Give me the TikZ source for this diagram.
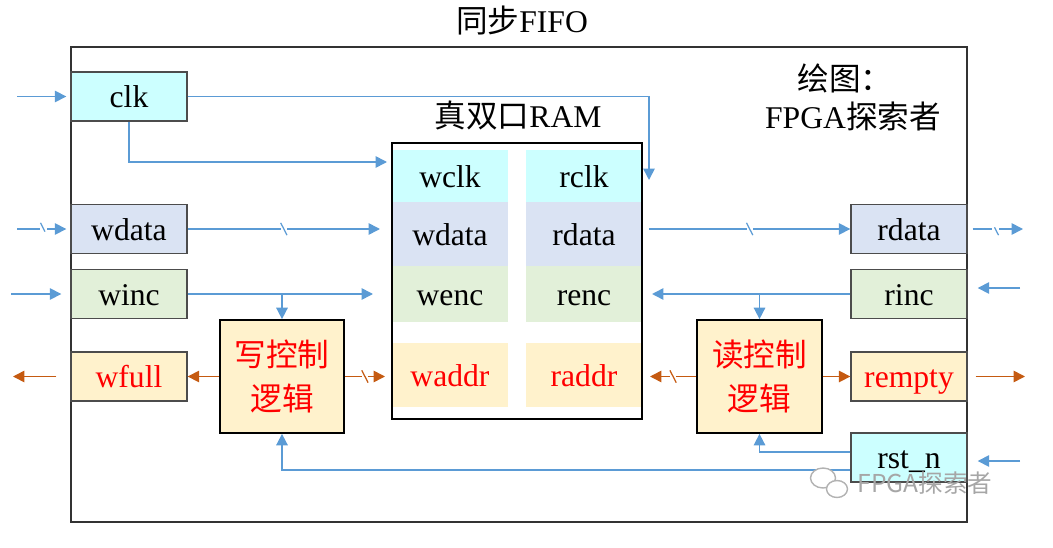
\documentclass[tikz,border=0pt]{standalone}
\usepackage{fontspec}
\setmainfont{Liberation Serif}
\newfontfamily\cjk{Noto Sans CJK SC}
\usepackage{tikz}
\usetikzlibrary{arrows.meta,decorations.markings}
\definecolor{clkc}{HTML}{CCFFFF}
\definecolor{datac}{HTML}{DAE3F3}
\definecolor{incc}{HTML}{E2F0D9}
\definecolor{flagc}{HTML}{FFF2CC}
\definecolor{wire}{HTML}{5B9BD5}
\definecolor{flagw}{HTML}{C55A11}

\begin{document}
\begin{tikzpicture}[x=0.02cm,y=-0.02cm,
          every node/.style={font=\fontsize{18}{25}\selectfont},
          frame/.style={draw=black!80,line width=1pt,minimum width=17.92cm,minimum height=9.5cm},
          port/.style={draw=black!70,line width=0.8pt,minimum width=2.32cm,minimum height=0.98cm,inner sep=0pt,
                       text height=15pt,text depth=2pt},
          cell/.style={minimum width=2.32cm,inner sep=0pt,text height=15pt,text depth=2pt},
          ctrl/.style={draw=black,line width=1pt,fill=flagc,text=red,align=center,inner sep=0pt,
                       minimum height=2.26cm,font=\cjk\fontsize{18}{25}\selectfont},
          sig/.style={draw=wire,line width=0.9pt,-{Triangle[length=6.5pt,width=6.5pt]}},
          flg/.style={draw=flagw,line width=0.9pt,-{Triangle[length=6.5pt,width=6.5pt]}},
          bus/.style={decoration={markings,mark=at position 0.5 with {
                        \fill[white] (-1.8pt,-3.5pt) rectangle (1.8pt,3.5pt);
                        \draw[-,line width=0.7pt] (-1.8pt,3.5pt) -- (1.8pt,-3.5pt);}},
                      postaction={decorate}},
        ]
        \useasboundingbox (0,0) rectangle (1053,547);
        \node[frame] (fifo) at (519,284.5) {};
        \node (title) at (522,21) {{\cjk 同步}FIFO};
        \node (author) at (845,78) {\cjk 绘图：};
        \node (authorname) at (853,116) {FPGA{\cjk 探索者}};

        \node[port,fill=clkc] (clk) at (129,96.5) {clk};
        \node[port,fill=datac] (wdat) at (129,229) {wdata};
        \node[port,fill=incc] (winc) at (129,294) {winc};
        \node[port,fill=flagc,text=red] (wfull) at (129,376.5) {wfull};
        \node[port,fill=datac] (rdat) at (909,229) {rdata};
        \node[port,fill=incc] (rinc) at (909,294) {rinc};
        \node[port,fill=flagc,text=red] (rempty) at (909,376.5) {rempty};
        \node[port,fill=clkc] (rstn) at (909,457.5) {rst\_n};

        \node[ctrl,minimum width=2.48cm] (wctrl) at (282,376.5) {写控制\\逻辑};
        \node[ctrl,minimum width=2.5cm] (rctrl) at (759.5,376.5) {读控制\\逻辑};

        \node[cell,fill=clkc,minimum height=1.04cm] (wclk) at (450,176) {wclk};
        \node[cell,fill=clkc,minimum height=1.04cm] (rclk) at (584,176) {rclk};
        \node[cell,fill=datac,minimum height=1.28cm] (wdatp) at (450,234) {wdata};
        \node[cell,fill=datac,minimum height=1.28cm] (rdatp) at (584,234) {rdata};
        \node[cell,fill=incc,minimum height=1.12cm] (wenc) at (450,294) {wenc};
        \node[cell,fill=incc,minimum height=1.12cm] (renc) at (584,294) {renc};
        \node[cell,fill=flagc,minimum height=1.28cm,text=red] (waddr) at (450,375) {waddr};
        \node[cell,fill=flagc,minimum height=1.28cm,text=red] (raddr) at (584,375) {raddr};
        \node[draw,line width=1pt,minimum width=5cm,minimum height=5.52cm] (ram) at (517,281) {};
        \node (ramtitle) at (518,115) {{\cjk 真双口}RAM};

        \coordinate (clkin) at (17,96.5);
        \coordinate (wdatin) at (17,229);
        \coordinate (wincin) at (11,294);
        \coordinate (wfullout) at (13,376.5);
        \coordinate (rdatout) at (1023,229);
        \coordinate (rincin) at (1020,288);
        \coordinate (remptyout) at (1025,376.5);
        \coordinate (rstnin) at (1020,461);
        \coordinate (rclkin) at (649,180);
        \coordinate (wclkin) at (387,162);
        \coordinate (wdatpin) at (380,229);
        \coordinate (wencin) at (373,294);
        \coordinate (rdatpout) at (649,229);
        \coordinate (rencin) at (652,294);
        \coordinate (waddrin) at (385,376.5);
        \coordinate (raddrin) at (650,376.5);

        \draw[sig,shorten >=0.08cm] (clkin) -- (clk);
        \draw[sig,bus,shorten >=0.08cm] (wdatin) -- (wdat);
        \draw[sig,shorten >=0.18cm] (wincin) -- (winc);
        \draw[flg,shorten <=0.28cm] (wfull) -- (wfullout);
        \draw[sig] (clk.east) -| (rclkin);
        \draw[sig] (clk.south) |- (wclkin);
        \draw[sig,bus] (wdat) -- (wdatpin);
        \draw[sig] (winc) -- (wencin);
        \draw[sig] (wctrl.north |- winc.east) -- (wctrl);
        \draw[flg,bus] (wctrl) -- (waddrin);
        \draw[flg] (wctrl) -- (wfull);
        \draw[sig,bus] (rdatpout) -- (rdat);
        \draw[sig,bus,shorten <=0.1cm] (rdat) -- (rdatout);
        \draw[sig,shorten >=0.2cm] (rincin) -- (rinc.east |- rincin);
        \draw[sig] (rinc) -- (rencin);
        \draw[sig] (rctrl.north |- rinc.west) -- (rctrl);
        \draw[flg,bus] (rctrl) -- (raddrin);
        \draw[flg] (rctrl) -- (rempty);
        \draw[flg,shorten <=0.16cm] (rempty) -- (remptyout);
        \draw[sig,shorten >=0.2cm] (rstnin) -- (rstn.east |- rstnin);
        \draw[sig] ([yshift=0.11cm]rstn.west) -| (rctrl);
        \draw[sig] ([yshift=-0.25cm]rstn.west) -| (wctrl);

        \draw[black!30,line width=0.8pt,fill=white] (823,478) ellipse (0.25cm and 0.2cm);
        \draw[black!30,line width=0.8pt,fill=white] (837,489) ellipse (0.21cm and 0.17cm);
        \node[text=black!35,font=\cjk\fontsize{14}{16}\selectfont] (wmark) at (925,483) {FPGA探索者};
      \end{tikzpicture}
\end{document}
